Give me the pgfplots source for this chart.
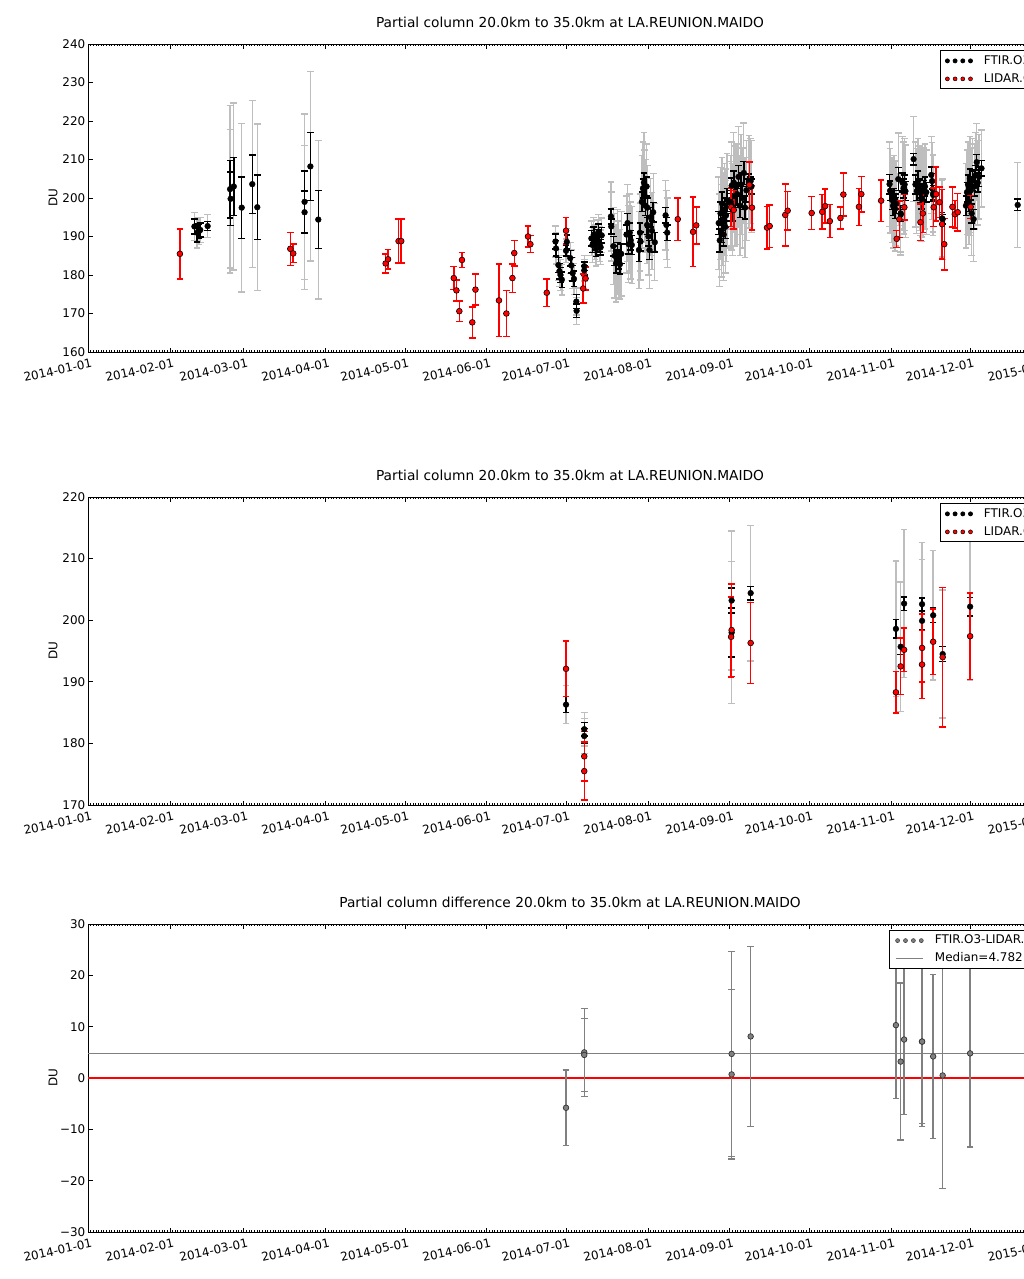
\documentclass[border=0pt]{standalone}
\usepackage{fontspec}
\setmainfont{DejaVu Sans}
\usepackage{pgfplots}
\usepackage{pgfplotstable}
\pgfplotsset{compat=1.18}

\definecolor{ebgray}{RGB}{190,190,190}
\definecolor{medgray}{RGB}{128,128,128}

% FTIR, all days: day of 2014, value, random error, total error
\pgfplotstableread{
x y er et
40.3 192.6 2.0 3.7
41.3 191.0 2.4 4.0
42.0 191.4 1.8 3.5
42.5 191.7 1.8 3.3
45.3 192.7 1.2 3.0
53.8 202.3 7.5 21.8
54.0 199.8 7.0 18.0
55.2 203.0 7.5 21.7
58.2 197.5 8.0 21.9
62.2 203.6 7.6 21.7
64.1 197.6 8.4 21.6
82.0 199.0 8.0 22.8
82.0 196.3 5.5 17.4
84.2 208.2 8.8 24.6
87.2 194.4 7.5 20.6
177.0 188.7 2.0 4.0
177.2 186.9 2.0 4.0
178.1 182.6 2.0 4.0
178.5 181.0 2.0 4.0
178.9 180.0 2.0 4.0
179.4 178.8 2.0 4.0
181.0 186.3 1.3 3.1
181.3 188.6 1.8 3.5
182.6 184.4 2.0 4.0
183.0 182.5 2.0 4.0
183.5 180.5 2.0 4.0
184.0 179.0 2.0 4.0
184.9 173.1 1.8 3.5
185.0 170.7 1.8 3.5
187.9 182.3 1.1 2.7
187.9 181.2 1.2 2.8
190.6 189.5 2.0 4.5
191.0 187.8 2.0 4.5
191.5 190.5 2.0 4.5
192.0 188.5 2.0 4.5
192.4 186.8 2.0 4.5
192.9 189.8 2.0 4.5
193.3 191.2 2.0 4.5
193.7 188.0 2.0 4.5
194.1 187.2 2.0 4.5
194.5 190.3 2.0 4.5
198.0 195.2 2.0 9.0
198.1 192.6 2.0 9.0
198.9 187.5 2.5 10.0
199.4 185.0 2.5 11.0
199.9 183.0 2.5 10.0
200.4 186.0 2.5 11.0
200.9 184.0 2.5 10.0
201.4 182.8 2.5 9.0
201.9 185.5 2.5 11.0
203.9 190.5 2.5 10.0
204.3 193.5 2.5 10.0
204.7 188.0 2.5 10.0
205.1 191.0 2.5 10.0
205.5 189.0 2.5 10.0
205.9 187.8 2.5 10.0
208.6 186.5 3.0 10.0
209.0 191.0 2.5 10.0
209.2 188.7 2.5 10.0
209.7 199.0 2.5 12.0
210.1 202.5 2.5 12.0
210.5 204.0 2.5 13.0
210.8 200.5 2.5 12.0
211.1 198.0 2.5 12.0
211.5 203.0 2.5 11.0
211.8 197.5 2.5 11.0
211.7 193.0 2.5 10.0
212.2 190.0 2.5 10.0
212.6 186.5 2.5 10.0
213.0 195.0 2.5 10.0
213.5 191.5 2.5 10.0
214.0 196.3 2.5 10.0
214.6 188.5 2.5 10.0
218.7 195.5 2.0 9.0
219.0 193.0 2.0 9.0
219.3 191.0 2.0 9.0
238.8 193.5 3.0 12.0
239.2 189.0 3.0 12.0
239.5 196.0 3.0 12.0
239.8 191.5 3.0 12.0
240.1 198.5 3.0 12.0
240.4 194.5 3.0 12.0
240.7 190.5 3.0 12.0
241.0 197.0 3.0 12.0
241.3 192.5 3.0 12.0
241.6 195.5 3.0 12.0
241.9 199.5 3.0 12.0
243.3 199.0 3.0 12.0
243.7 203.2 2.0 11.3
243.7 198.0 4.0 11.5
244.1 197.0 3.0 12.0
244.5 204.0 3.0 13.0
244.9 200.5 3.0 13.0
245.8 201.0 3.0 13.0
246.3 205.5 3.0 13.0
246.8 198.0 3.0 13.0
247.3 203.5 3.0 13.0
247.8 200.0 3.0 13.0
248.3 206.5 3.0 13.0
248.8 197.5 3.0 13.0
249.3 202.0 3.0 13.0
250.3 204.2 2.0 12.0
250.9 204.4 1.1 11.0
251.2 203.0 2.0 12.0
303.5 203.6 2.5 11.0
303.7 201.9 2.5 11.0
304.4 199.5 2.5 11.0
304.8 198.0 2.5 11.0
305.2 200.0 2.5 11.0
305.6 197.2 2.5 11.0
305.9 198.6 1.5 11.0
306.0 198.5 2.5 11.0
306.8 204.9 3.0 12.0
307.7 195.7 1.3 10.5
307.7 196.0 2.0 10.0
308.4 204.0 2.5 12.0
308.8 202.5 2.5 12.0
309.0 202.7 1.1 12.0
309.2 203.5 2.5 12.0
309.5 201.8 2.5 12.0
312.6 210.1 1.5 11.0
313.3 203.5 2.5 11.0
313.8 201.8 2.5 11.0
314.3 204.5 2.5 11.0
314.8 202.5 2.5 11.0
315.3 201.3 2.5 11.0
315.6 199.7 2.5 11.0
315.8 202.6 1.0 10.0
315.8 199.9 1.5 10.0
316.3 202.0 2.5 11.0
316.9 203.0 2.5 11.0
317.4 201.5 2.5 11.0
319.3 206.0 2.0 10.0
319.6 204.4 2.0 10.0
320.0 200.8 1.2 10.5
320.0 201.2 2.0 10.0
323.4 194.7 1.5 10.0
323.6 194.5 1.2 10.4
332.4 198.0 2.5 11.0
332.8 201.5 2.5 11.0
333.2 203.5 2.5 11.0
333.5 199.0 2.5 11.0
333.9 205.0 2.5 11.0
334.0 202.2 1.5 12.0
334.3 202.0 2.5 11.0
334.6 196.0 2.5 11.0
334.9 204.5 2.5 11.0
335.3 194.5 2.5 11.0
335.7 203.0 2.5 11.0
336.1 206.0 2.5 11.0
336.5 209.3 2.0 10.0
336.9 204.0 2.5 11.0
337.4 205.5 2.5 11.0
338.3 207.7 2.0 10.0
352.0 198.2 1.5 11.0
}\ftirall

% LIDAR, all days: day of 2014, value, error
\pgfplotstableread{
x y e
34.8 185.5 6.5
76.6 186.8 4.3
77.7 185.6 2.4
112.7 183.0 2.5
113.6 184.1 2.5
117.6 188.8 5.7
118.6 188.8 5.7
138.5 179.2 3.0
139.5 176.0 2.7
140.6 170.6 2.7
141.6 183.9 2.0
145.5 167.7 4.0
146.7 176.2 4.0
155.6 173.4 9.4
158.4 170.0 6.0
160.7 179.2 3.7
161.4 185.7 3.3
166.6 190.0 2.7
167.5 188.0 2.2
173.7 175.4 3.6
181.0 191.5 3.5
187.5 176.5 3.8
188.4 179.1 3.0
223.3 194.5 5.5
229.1 191.2 9.0
230.3 192.9 4.8
243.5 197.6 5.0
244.5 196.9 5.0
250.4 203.4 6.0
251.4 197.5 5.8
257.1 192.3 5.5
258.1 192.7 5.5
264.0 195.6 8.1
264.9 196.7 5.0
274.0 196.1 4.3
278.0 196.4 4.5
279.1 197.9 4.4
280.9 194.0 4.3
284.9 194.8 2.9
286.0 200.9 5.6
291.9 197.7 4.8
292.8 201.0 4.6
300.3 199.3 5.4
306.2 189.4 2.2
307.2 194.5 4.7
309.1 197.6 3.3
315.2 193.7 4.7
316.1 196.0 5.0
320.2 197.6 5.0
321.1 201.0 7.0
322.4 198.9 4.0
323.4 193.2 9.0
324.2 188.0 6.7
327.3 197.7 5.2
328.2 195.8 3.6
329.3 196.3 4.9
334.2 197.7 3.0
}\lidarall

% coincident FTIR
\pgfplotstableread{
x y er et
181.0 186.3 1.3 3.1
187.9 182.3 1.1 2.7
187.9 181.2 1.2 2.8
243.7 203.2 2.0 11.3
243.7 198.0 4.0 11.5
250.9 204.4 1.1 11.0
305.9 198.6 1.5 11.0
307.7 195.7 1.3 10.5
309.0 202.7 1.1 12.0
315.8 202.6 1.0 10.0
315.8 199.9 1.5 10.0
320.0 200.8 1.2 10.5
323.6 194.5 1.2 10.4
334.0 202.2 1.5 12.0
}\ftircoin

% coincident LIDAR
\pgfplotstableread{
x y e
181.0 192.1 4.5
187.9 177.9 4.0
187.9 175.5 4.7
243.7 198.4 7.5
243.5 197.3 6.5
250.9 196.3 6.6
305.9 188.3 3.4
307.7 192.5 4.6
309.0 195.2 3.5
315.8 195.5 5.5
315.8 192.8 5.5
320.0 196.5 5.3
323.6 194.0 11.3
334.0 197.4 7.0
}\lidarcoin

% FTIR minus LIDAR
\pgfplotstableread{
x y e
181.0 -5.8 7.4
187.9 5.0 8.6
187.9 4.5 7.1
243.7 4.7 20.0
243.7 0.7 16.5
250.9 8.1 17.5
305.9 10.3 14.3
307.7 3.2 15.3
309.0 7.5 14.6
315.8 7.1 16.6
315.8 7.1 16.0
320.0 4.2 16.0
323.6 0.5 22.0
334.0 4.8 18.2
}\diffs

\pgfplotsset{
  mpl/.style={
    scale only axis, width=964bp, height=308bp, anchor=south west,
    xmin=0, xmax=365,
    xtick={0,31,59,90,120,151,181,212,243,273,304,334,365},
    xticklabels={2014-01-01,2014-02-01,2014-03-01,2014-04-01,2014-05-01,2014-06-01,2014-07-01,2014-08-01,2014-09-01,2014-10-01,2014-11-01,2014-12-01,2015-01-01},
    minor xtick={0,1,...,365},
    tick align=inside,
    major tick length=4.5bp, minor tick length=2.2bp,
    every tick/.style={black, line width=0.7bp},
    axis line style={line width=0.9bp},
    xticklabel style={rotate=12.5, anchor=north east, inner sep=0pt, xshift=1.5bp, yshift=-6.5bp, font=\fontsize{12}{14}\selectfont},
    yticklabel style={anchor=east, inner sep=0pt, xshift=-2.5bp, font=\fontsize{12}{14}\selectfont},
    /pgf/number format/assume math mode=true,
    ylabel=DU,
    ylabel style={at={(axis description cs:-0.0363,0.5)}, anchor=center, font=\fontsize{12}{14}\selectfont},
    title style={at={(0.5,1)}, anchor=base, yshift=11bp, inner sep=0pt, font=\fontsize{13.8}{16}\selectfont},
    legend cell align=left,
    legend style={draw=black, line width=0.8bp, fill=white, anchor=north west,
      font=\fontsize{12}{14}\selectfont, inner xsep=5bp, inner ysep=3bp, row sep=4bp,
      nodes={inner sep=1.5bp, text height=8.7bp, text depth=2.3bp},
      /tikz/every odd column/.append style={column sep=10bp}},
  },
  graybars/.style={forget plot, only marks, mark=none,
    error bars/.cd, y dir=both, y explicit,
    error bar style={ebgray, line width=1.4bp},
    error mark options={ebgray, rotate=90, mark size=3.3bp, line width=1.4bp}},
  blackpts/.style={forget plot, only marks, mark=*, mark size=2.9bp,
    mark options={fill=black, draw=black},
    error bars/.cd, y dir=both, y explicit,
    error bar style={black, line width=1.5bp},
    error mark options={black, rotate=90, mark size=3.3bp, line width=1.5bp}},
  redpts/.style={forget plot, only marks, mark=*, mark size=2.9bp,
    mark options={fill=red, draw=black, line width=0.6bp},
    error bars/.cd, y dir=both, y explicit,
    error bar style={red, line width=1.5bp},
    error mark options={red, rotate=90, mark size=3.3bp, line width=1.5bp}},
}

\begin{document}
\begin{tikzpicture}
\fill[white] (0bp,0bp) rectangle (1024bp,-1279bp);

% top panel: all data
\begin{axis}[mpl, at={(88bp,-352bp)}, ymin=160, ymax=240, ytick={160,170,...,240},
  title={Partial column 20.0km to 35.0km at LA.REUNION.MAIDO},
  legend style={at={(0.8838,0.979)}}]
  \addlegendimage{legend image code/.code={\draw[mark=*, mark size=2bp, mark options={fill=black,draw=black}] plot[only marks] coordinates {(0bp,0bp) (7.7bp,0bp) (15.4bp,0bp) (23.1bp,0bp)};}}
  \addlegendentry{FTIR.O3}
  \addlegendimage{legend image code/.code={\draw[mark=*, mark size=2bp, mark options={fill=red,draw=black,line width=0.5bp}] plot[only marks] coordinates {(0bp,0bp) (7.7bp,0bp) (15.4bp,0bp) (23.1bp,0bp)};}}
  \addlegendentry{LIDAR.O3}
  \addplot[graybars] table[x=x, y=y, y error=et] {\ftirall};
  \addplot[blackpts] table[x=x, y=y, y error=er] {\ftirall};
  \addplot[redpts] table[x=x, y=y, y error=e] {\lidarall};
\end{axis}

% middle panel: coincident data
\begin{axis}[mpl, at={(88bp,-805bp)}, ymin=170, ymax=220, ytick={170,180,...,220},
  title={Partial column 20.0km to 35.0km at LA.REUNION.MAIDO},
  legend style={at={(0.8838,0.979)}}]
  \addlegendimage{legend image code/.code={\draw[mark=*, mark size=2bp, mark options={fill=black,draw=black}] plot[only marks] coordinates {(0bp,0bp) (7.7bp,0bp) (15.4bp,0bp) (23.1bp,0bp)};}}
  \addlegendentry{FTIR.O3}
  \addlegendimage{legend image code/.code={\draw[mark=*, mark size=2bp, mark options={fill=red,draw=black,line width=0.5bp}] plot[only marks] coordinates {(0bp,0bp) (7.7bp,0bp) (15.4bp,0bp) (23.1bp,0bp)};}}
  \addlegendentry{LIDAR.O3}
  \addplot[graybars] table[x=x, y=y, y error=et] {\ftircoin};
  \addplot[blackpts] table[x=x, y=y, y error=er] {\ftircoin};
  \addplot[redpts] table[x=x, y=y, y error=e] {\lidarcoin};
\end{axis}

% bottom panel: differences
\begin{axis}[mpl, at={(88bp,-1232bp)}, ymin=-30, ymax=30, ytick={-30,-20,...,30},
  yticklabels={−30,−20,−10,0,10,20,30},
  title={Partial column difference 20.0km to 35.0km at LA.REUNION.MAIDO},
  legend style={at={(0.8312,0.980)}}]
  \addlegendimage{legend image code/.code={\draw[mark=*, mark size=2bp, mark options={fill=medgray,draw=black!80,line width=0.5bp}] plot[only marks] coordinates {(0bp,0bp) (7.9bp,0bp) (15.8bp,0bp) (23.7bp,0bp)};}}
  \addlegendentry{FTIR.O3-LIDAR.O3}
  \addlegendimage{legend image code/.code={\draw[medgray, line width=1.8bp] (-2bp,0bp) -- (25bp,0bp);}}
  \addlegendentry{Median=4.782}
  \addplot[forget plot, medgray, line width=1.8bp] coordinates {(0,4.782) (365,4.782)};
  \addplot[forget plot, red, line width=1.8bp] coordinates {(0,0) (365,0)};
  \addplot[forget plot, only marks, mark=*, mark size=2.8bp,
    mark options={fill=medgray, draw=black!80, line width=0.7bp},
    error bars/.cd, y dir=both, y explicit,
    error bar style={medgray, line width=1.4bp},
    error mark options={medgray, rotate=90, mark size=3.3bp, line width=1.4bp}]
    table[x=x, y=y, y error=e] {\diffs};
\end{axis}

\pgfresetboundingbox
\useasboundingbox (0bp,0bp) rectangle (1024bp,-1279bp);
\end{tikzpicture}
\end{document}
